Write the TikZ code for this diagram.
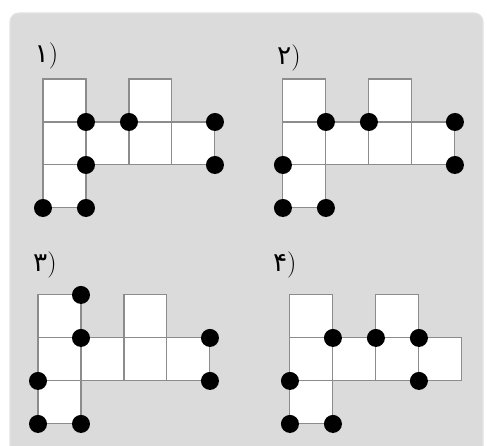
\documentclass[tikz,border=0pt]{standalone}
\usepackage{fontspec}
\newfontfamily\farsi[Script=Arabic]{DejaVu Sans}
\usetikzlibrary{positioning}

% the seven white squares of one net, in cell units
\newcommand{\boxnet}{%
  \foreach \c/\r in {0/0,2/0,0/1,1/1,2/1,3/1,0/2}
    \draw[cell] (\c,\r) rectangle ++(1,1);}

\begin{document}
\begin{tikzpicture}[x=0.02cm,y=-0.02cm,semithick]
 \tikzstyle{cell}=[fill=white, draw=gray!90, line width=0.6pt]
 \tikzstyle{dot}=[circle, fill=black, inner sep=0pt, minimum size=0.36cm]
 \tikzstyle{lbl}=[font=\fontsize{15}{17}\selectfont, inner sep=0pt]
 \tikzstyle{net}=[x=0.86cm, y=-0.86cm]
 \useasboundingbox (0,0) rectangle (487,446);
 \fill[white] (0,0) rectangle (487,446);
 \draw[fill=gray!28, draw=gray!22, rounded corners=5pt] (10,13) rectangle (483,470);

 % panel 1
 \begin{scope}[xshift=0.86cm, yshift=-1.58cm, net]
   \boxnet
   \foreach \c/\r [count=\i] in {1/1,2/1,4/1,1/2,4/2,0/3,1/3}
     \node[dot] (a\i) at (\c,\r) {};
   \node[lbl] (la) at (0.08,-0.54) {{\farsi ۱})};
 \end{scope}

 % panel 2
 \begin{scope}[xshift=5.66cm, yshift=-1.58cm, net]
   \boxnet
   \foreach \c/\r [count=\i] in {1/1,2/1,4/1,0/2,4/2,0/3,1/3}
     \node[dot] (b\i) at (\c,\r) {};
   \node[lbl] (lb) at (0.14,-0.5) {{\farsi ۲})};
 \end{scope}

 % panel 3
 \begin{scope}[xshift=0.76cm, yshift=-5.9cm, net]
   \boxnet
   \foreach \c/\r [count=\i] in {1/0,1/1,4/1,0/2,4/2,0/3,1/3}
     \node[dot] (c\i) at (\c,\r) {};
   \node[lbl] (lc) at (0.16,-0.7) {{\farsi ۳})};
 \end{scope}

 % panel 4
 \begin{scope}[xshift=5.8cm, yshift=-5.9cm, net]
   \boxnet
   \foreach \c/\r [count=\i] in {1/1,2/1,3/1,0/2,3/2,0/3,1/3}
     \node[dot] (d\i) at (\c,\r) {};
   \node[lbl] (ld) at (-0.12,-0.7) {{\farsi ۴})};
 \end{scope}
\end{tikzpicture}
\end{document}
